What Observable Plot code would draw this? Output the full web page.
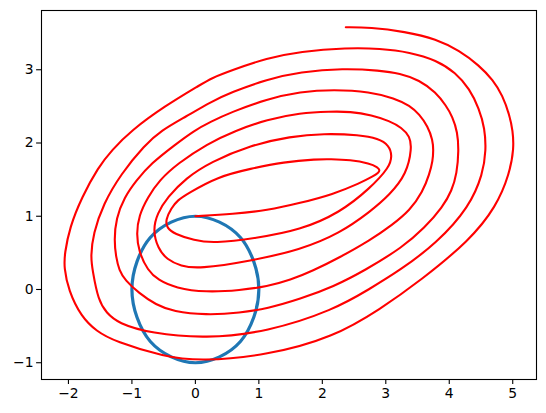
<!DOCTYPE html>
<html>
<head>
<meta charset="utf-8">
<script src="https://cdn.jsdelivr.net/npm/d3@7"></script>
<script src="https://cdn.jsdelivr.net/npm/@observablehq/plot@0.6"></script>
<style>
  html, body { margin: 0; padding: 0; background: white; }
  #chart { width: 546px; height: 413px; }
</style>
</head>
<body>
<div id="chart"></div>
<script>
// Spiral (red): points, in drawing order
const spiralX = [
  0.00, 0.60, 1.13, 1.65, 2.17, 2.59, 2.81, 2.88, 2.91, 2.87,
  2.75, 2.44, 2.12, 1.92, 1.39, 0.87, 0.35, -0.12, -0.28, -0.38, -0.47,
  -0.45, -0.33, -0.02, 0.29,
  0.95, 1.65, 2.28, 2.75, 3.06, 3.10,
  3.05, 2.88, 2.59, 2.02,
  1.50, 0.87, 0.24, -0.15, -0.44, -0.60, -0.67,
  -0.59, -0.45, -0.23, 0.05,
  0.87, 1.65, 2.28, 2.75, 3.06, 3.33, 3.41,
  3.38, 3.25, 3.06, 2.78, 2.44, 2.12,
  1.65, 1.13, 0.63, 0.19, -0.28, -0.57, -0.75, -0.89, -0.93,
  -0.89, -0.75, -0.59, -0.31, 0.16,
  0.71, 1.13, 1.50, 1.84, 2.28, 2.75, 3.10, 3.38, 3.58, 3.69, 3.74, 3.75,
  3.74, 3.66, 3.53, 3.38, 3.14, 2.75, 2.18,
  1.65, 1.13, 0.56, 0.24, -0.02, -0.33, -0.70, -0.93, -1.12, -1.25, -1.28,
  -1.25, -1.20, -1.11, -0.89, -0.62, -0.35, 0.16,
  0.71, 1.13, 1.65, 2.18, 2.67, 3.27, 3.61, 3.90, 4.04, 4.12, 4.15,
  4.13, 4.05, 3.95, 3.79, 3.53, 3.22, 2.91, 2.33,
  1.65, 1.13, 0.56, 0.24, -0.15, -0.54, -0.80, -1.17, -1.45, -1.61, -1.65,
  -1.62, -1.53, -1.40, -1.22, -0.70, 0.16,
  1.13, 2.18, 2.75, 3.22, 3.80, 4.32, 4.53, 4.58,
  4.56, 4.47, 4.32, 4.10, 3.80, 3.38, 2.91, 2.39,
  1.65, 1.13, 0.56, 0.24, 0.09, -0.49, -1.01, -1.32, -1.53, -1.79, -1.98, -2.06, -2.07,
  -2.00, -1.80, -1.56, -1.27, -0.49, 0.09,
  1.13, 2.18, 2.91, 3.56, 4.32, 4.74, 4.95, 5.02,
  5.00, 4.95, 4.84, 4.69, 4.47, 4.16, 3.80, 3.30, 2.75, 2.37
];
const spiralY = [
  1.00, 1.03, 1.08, 1.18, 1.30, 1.45, 1.55, 1.59, 1.63, 1.67,
  1.72, 1.77, 1.78, 1.78, 1.74, 1.65, 1.54, 1.31, 1.22, 1.11, 0.95,
  0.84, 0.76, 0.67, 0.63,
  0.70, 0.81, 1.05, 1.38, 1.67, 1.83,
  1.97, 2.06, 2.11, 2.13,
  2.09, 1.97, 1.74, 1.52, 1.26, 1.04, 0.81,
  0.56, 0.41, 0.32, 0.28,
  0.39, 0.54, 0.77, 1.06, 1.29, 1.58, 1.93,
  2.09, 2.21, 2.30, 2.38, 2.43, 2.43,
  2.41, 2.32, 2.17, 1.99, 1.72, 1.49, 1.26, 1.01, 0.76,
  0.51, 0.26, 0.13, 0.02, -0.04,
  -0.01, 0.04, 0.13, 0.25, 0.44, 0.67, 0.88, 1.08, 1.33, 1.58, 1.76, 1.90,
  2.04, 2.23, 2.39, 2.51, 2.61, 2.70, 2.73,
  2.70, 2.60, 2.42, 2.29, 2.17, 1.97, 1.72, 1.49, 1.26, 0.97, 0.67,
  0.44, 0.26, 0.13, -0.05, -0.21, -0.30, -0.35,
  -0.32, -0.26, -0.13, 0.04, 0.26, 0.58, 0.84, 1.13, 1.35, 1.58, 1.90,
  2.15, 2.36, 2.51, 2.69, 2.86, 2.95, 2.99, 3.02,
  2.97, 2.87, 2.69, 2.56, 2.36, 2.17, 1.97, 1.58, 1.17, 0.76, 0.45,
  0.26, -0.15, -0.32, -0.46, -0.60, -0.67,
  -0.58, -0.28, 0.01, 0.26, 0.63, 1.13, 1.58, 1.90,
  2.20, 2.47, 2.74, 2.96, 3.13, 3.24, 3.29, 3.30,
  3.25, 3.16, 2.99, 2.88, 2.80, 2.50, 2.17, 1.90, 1.67, 1.26, 0.85, 0.49, 0.30,
  -0.01, -0.37, -0.57, -0.71, -0.92, -0.98,
  -0.90, -0.65, -0.27, 0.13, 0.67, 1.13, 1.58, 1.93,
  2.17, 2.38, 2.65, 2.86, 3.06, 3.26, 3.42, 3.52, 3.58, 3.58
];

// Circle (blue): points
const circleX = [1.00, 0.92, 0.71, 0.38, 0.00, -0.38, -0.71, -0.92, -1.00, -0.92, -0.71, -0.38, 0.00, 0.38, 0.71, 0.92];
const circleY = [0.00, 0.38, 0.71, 0.92, 1.00, 0.92, 0.71, 0.38, 0.00, -0.38, -0.71, -0.92, -1.00, -0.92, -0.71, -0.38];

// Tick labels
const xTicks = [-2, -1, 0, 1, 2, 3, 4, 5];
const yTicks = [-1, 0, 1, 2, 3];

const spiral = spiralX.map((x, i) => ({x, y: spiralY[i]}));
const circle = circleX.map((x, i) => ({x, y: circleY[i]}));

const allX = spiralX.concat(circleX), allY = spiralY.concat(circleY);
const pad = (lo, hi) => [lo - 0.05 * (hi - lo), hi + 0.05 * (hi - lo)];
const xDom = pad(d3.min(allX), d3.max(allX));
const yDom = pad(d3.min(allY), d3.max(allY));
const fmt = d => (d < 0 ? "\u2212" + Math.abs(d) : String(d));

const chart = Plot.plot({
  width: 546,
  height: 413,
  marginLeft: 41,
  marginRight: 10,
  marginTop: 10,
  marginBottom: 34,
  x: {domain: xDom, label: null},
  y: {domain: yDom, label: null},
  style: {fontFamily: "DejaVu Sans", fontSize: "13.9px", background: "white", color: "black"},
  marks: [
    Plot.line(circle, {x: "x", y: "y", stroke: "#1f77b4", strokeWidth: 3.2, curve: "catmull-rom-closed"}),
    Plot.line(spiral, {x: "x", y: "y", stroke: "red", strokeWidth: 2.1, curve: "basis"}),
    Plot.frame({stroke: "black", strokeWidth: 1.1}),
    Plot.axisX({ticks: xTicks, tickSize: 4.9, tickPadding: 4, tickFormat: fmt, strokeWidth: 1.1}),
    Plot.axisY({ticks: yTicks, tickSize: 4.9, tickPadding: 3, tickFormat: fmt, strokeWidth: 1.1})
  ]
});
document.getElementById("chart").appendChild(chart);
</script>
</body>
</html>
